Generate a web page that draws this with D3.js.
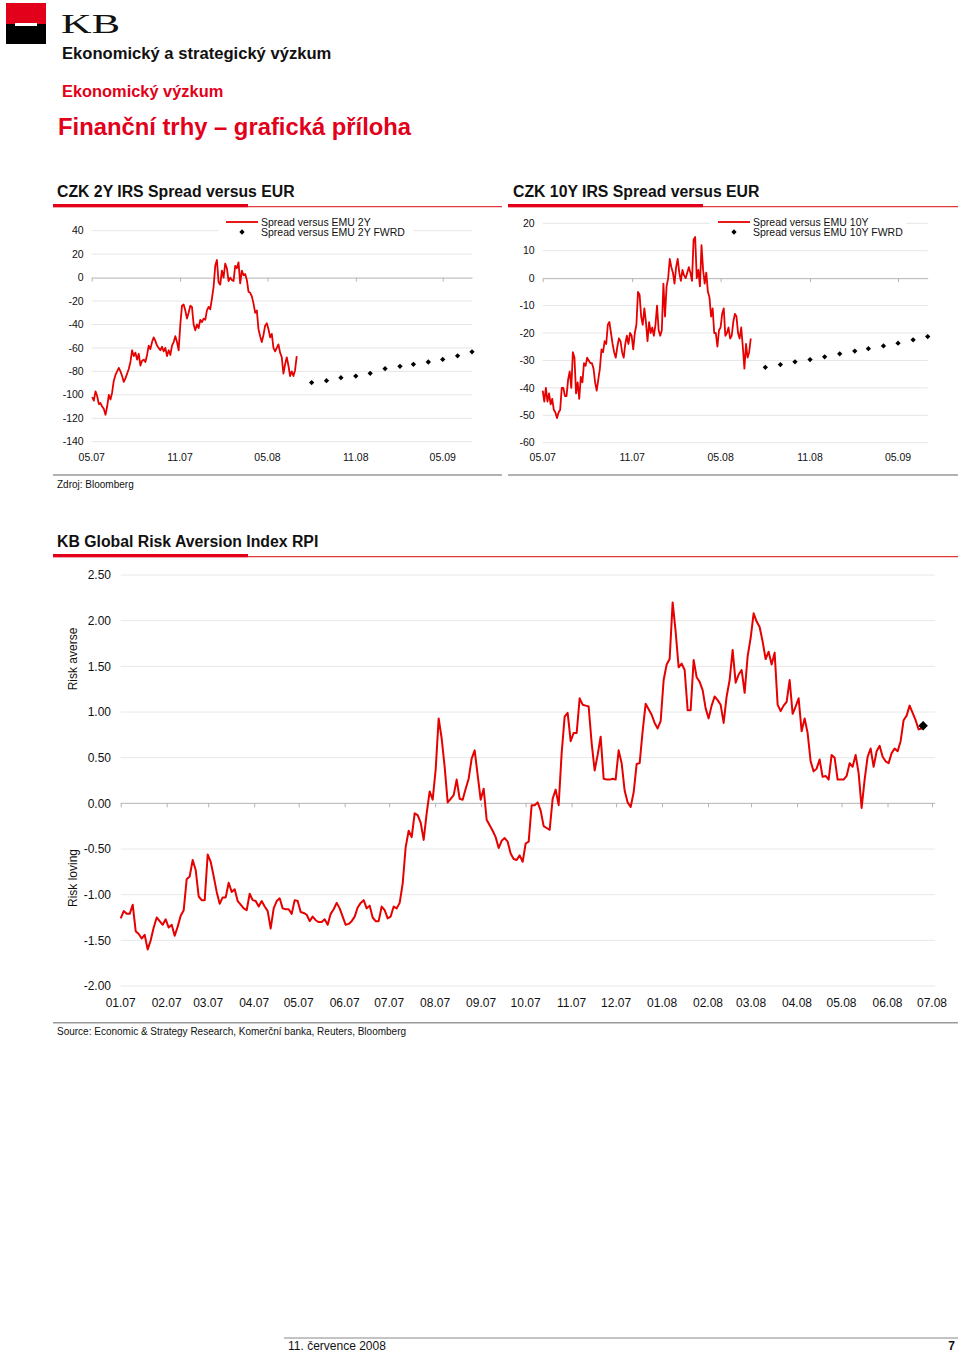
<!DOCTYPE html>
<html><head><meta charset="utf-8">
<script src="https://cdn.jsdelivr.net/npm/d3@7"></script>
<style>
body{margin:0;background:#fff;}
svg{display:block;font-family:"Liberation Sans",Arial,Helvetica,sans-serif;}
</style></head><body>
<svg id="c" width="960" height="1354"></svg>
<script>
// ---------------- DATA ----------------
const irsTickLabels = ["05.07","11.07","05.08","11.08","05.09"];
const irs2yTickLabels = ["40","20","0","-20","-40","-60","-80","-100","-120","-140"];
const irs10yTickLabels = ["20","10","0","-10","-20","-30","-40","-50","-60"];

// CZK 2Y IRS spread vs EMU 2Y (evenly sampled, 2007-05-02 .. 2008-07-01)
const spread2yStart = "2007-05-02", spread2yEnd = "2008-07-01";
const spread2y = [
 -102,-105,-97,-101,-108,-107,-110,-112,-117,-110,
 -100,-104,-98,-88,-83,-80,-77,-80,-84,-89,
 -86,-82,-78,-72,-62,-67,-64,-70,-65,-75,
 -71,-70,-72,-66,-58,-61,-55,-51,-54,-58,
 -60,-62,-59,-63,-60,-67,-62,-66,-58,-55,
 -50,-55,-62,-40,-24,-23,-28,-35,-30,-24,
 -25,-40,-45,-40,-43,-36,-38,-35,-36,-28,
 -25,-27,-18,-8,10,15,-4,-6,6,0,
 12,8,-3,0,-2,-3,10,8,13,-5,
 6,2,3,-2,-12,-13,-16,-22,-30,-28,
 -44,-50,-55,-49,-41,-39,-44,-51,-48,-60,
 -63,-60,-57,-64,-68,-82,-74,-68,-75,-84,
 -80,-84,-79,-67];
const fwdMonths = ["2008-08","2008-09","2008-10","2008-11","2008-12","2009-01","2009-02","2009-03","2009-04","2009-05","2009-06","2009-07"];
const fwd2y = [-89.6,-87.9,-85.4,-84.0,-81.7,-77.7,-75.7,-74.0,-72.0,-69.8,-66.7,-63.3];

// CZK 10Y IRS spread vs EMU 10Y (evenly sampled, 2007-05-01 .. 2008-07-02)
const spread10yStart = "2007-05-01", spread10yEnd = "2008-07-02";
const spread10y = [
 -41,-45,-40,-45,-42,-46,-44,-48,-49,-51,
 -49,-48,-40,-40,-43,-43,-37,-34,-40,-27,
 -29,-42,-38,-44,-36,-38,-31,-32,-29,-30,
 -31,-31,-33,-38,-41,-37,-33,-26,-27,-23,
 -24,-17,-16,-20,-24,-27,-29,-25,-22,-23,
 -27,-29,-24,-21,-24,-20,-21,-26,-20,-17,
 -5,-6,-14,-17,-11,-16,-23,-16,-20,-18,
 -21,-17,-10,-19,-21,-19,-2,-14,-3,0,
 7,4,2,-2,4,7,2,-1,3,1,
 0,2,4,2,-1,14,15,0,3,-3,
 12,3,-2,2,-5,-7,-14,-11,-20,-20,
 -25,-19,-18,-13,-11,-21,-20,-18,-22,-21,
 -16,-13,-14,-20,-22,-18,-25,-33,-24,-29,
 -27,-22];
const fwd10y = [-32.5,-31.5,-30.5,-29.7,-28.7,-27.6,-26.6,-25.7,-24.7,-23.7,-22.5,-21.3];

// KB Global Risk Aversion Index RPI (evenly sampled, 2007-01-01 .. 2008-06-24)
const rpiMonths = ["01.07","02.07","03.07","04.07","05.07","06.07","07.07","08.07","09.07","10.07","11.07","12.07","01.08","02.08","03.08","04.08","05.08","06.08","07.08"];
const rpiTickLabels = ["2.50","2.00","1.50","1.00","0.50","0.00","-0.50","-1.00","-1.50","-2.00"];
const rpiStart = "2007-01-01", rpiEnd = "2008-06-24";
const rpi = [
 -1.26,-1.18,-1.21,-1.21,-1.11,-1.40,-1.43,-1.48,-1.44,-1.60,
 -1.50,-1.36,-1.25,-1.29,-1.33,-1.27,-1.36,-1.33,-1.45,-1.35,
 -1.23,-1.17,-0.83,-0.80,-0.62,-0.73,-1.02,-1.06,-1.06,-0.56,
 -0.64,-0.80,-0.97,-1.10,-1.03,-1.03,-0.87,-0.97,-0.94,-1.07,
 -1.11,-1.15,-1.17,-0.99,-1.06,-1.07,-1.13,-1.07,-1.13,-1.18,
 -1.37,-1.15,-1.07,-1.04,-1.15,-1.16,-1.16,-1.21,-1.06,-1.07,
 -1.19,-1.20,-1.22,-1.29,-1.24,-1.28,-1.30,-1.30,-1.27,-1.33,
 -1.21,-1.16,-1.09,-1.15,-1.24,-1.33,-1.32,-1.29,-1.24,-1.14,
 -1.09,-1.06,-1.15,-1.12,-1.25,-1.29,-1.29,-1.13,-1.17,-1.26,
 -1.24,-1.13,-1.15,-1.09,-0.88,-0.48,-0.30,-0.37,-0.11,-0.13,
 -0.21,-0.40,-0.11,0.13,0.04,0.37,0.93,0.71,0.40,0.01,
 0.05,0.09,0.26,0.05,0.04,0.16,0.27,0.49,0.58,0.31,
 0.04,0.16,-0.18,-0.24,-0.30,-0.37,-0.49,-0.41,-0.38,-0.42,
 -0.55,-0.61,-0.62,-0.57,-0.64,-0.44,-0.42,-0.02,-0.02,0.01,
 -0.08,-0.25,-0.27,-0.29,0.05,0.15,-0.02,0.55,0.95,0.99,
 0.68,0.77,0.77,1.15,1.08,1.07,1.06,0.66,0.36,0.53,
 0.73,0.27,0.26,0.26,0.27,0.26,0.58,0.44,0.14,0.01,
 -0.04,0.12,0.43,0.44,0.79,1.09,1.03,0.97,0.88,0.82,
 0.90,1.35,1.52,1.58,2.20,1.88,1.49,1.53,1.46,1.02,
 1.02,1.57,1.38,1.33,1.24,1.04,0.93,1.07,1.17,1.13,
 1.08,0.88,1.17,1.35,1.68,1.32,1.41,1.46,1.21,1.61,
 1.81,2.08,1.99,1.93,1.77,1.58,1.66,1.52,1.65,1.08,
 1.01,1.07,1.11,1.35,0.98,1.06,1.15,0.79,0.93,0.77,
 0.46,0.35,0.38,0.48,0.29,0.30,0.26,0.53,0.50,0.26,
 0.26,0.26,0.30,0.44,0.40,0.53,0.33,-0.05,0.26,0.51,
 0.60,0.40,0.57,0.63,0.51,0.46,0.44,0.55,0.60,0.57,
 0.68,0.91,0.96,1.07,0.99,0.91,0.81,0.82];
const rpiLastDate = "2008-06-25", rpiLast = 0.85;

// ---------------- DRAWING ----------------
const RED = "#e60000", RED_TXT = "#e2001a";
const svg = d3.select("#c");
const parseD = d3.utcParse("%Y-%m-%d");
const parseYM = d3.utcParse("%Y-%m");
const parseMY = d3.utcParse("%m.%y");
function evenDates(n, s, e){ const a = parseD(s).getTime(), b = parseD(e).getTime(); return d3.range(n).map(i => new Date(a + (b - a) * i / (n - 1))); }
const diamond = (size) => d3.symbol(d3.symbolSquare, size)();

// header / logo
svg.append("rect").attr("x",6).attr("y",3).attr("width",40).attr("height",21).attr("fill","#e2001a");
svg.append("rect").attr("x",6).attr("y",24).attr("width",40).attr("height",20).attr("fill","#000");
svg.append("rect").attr("x",15).attr("y",23).attr("width",22).attr("height",3).attr("fill","#fff");
svg.append("text").attr("x",61).attr("y",33).attr("font-family","'Liberation Serif','Times New Roman',serif")
  .attr("font-size",28).attr("textLength",59).attr("lengthAdjust","spacingAndGlyphs").attr("fill","#111").text("KB");
svg.append("text").attr("x",62).attr("y",59).attr("font-size",16.6).attr("font-weight","bold").attr("fill","#111").text("Ekonomický a strategický výzkum");
svg.append("text").attr("x",62).attr("y",97).attr("font-size",16.4).attr("font-weight","bold").attr("fill",RED_TXT).text("Ekonomický výzkum");
svg.append("text").attr("x",58).attr("y",135).attr("font-size",23.8).attr("font-weight","bold").attr("fill",RED_TXT).text("Finanční trhy – grafická příloha");

function sectionTitle(x, y, text, lineX0, lineX1){
  svg.append("text").attr("x",x).attr("y",y).attr("font-size",15.8).attr("font-weight","bold").attr("fill","#111").text(text);
  svg.append("line").attr("x1",lineX0).attr("x2",lineX1).attr("y1",y+9.7).attr("y2",y+9.7).attr("stroke","#e23a3a").attr("stroke-width",1.3);
  svg.append("rect").attr("x",lineX0).attr("y",y+7).attr("width",195).attr("height",3.2).attr("fill","#e2001a");
}
sectionTitle(57,197,"CZK 2Y IRS Spread versus EUR",53,502);
sectionTitle(513,197,"CZK 10Y IRS Spread versus EUR",508,958);
sectionTitle(57,547,"KB Global Risk Aversion Index RPI",53,958);

function irsChart(cfg){
  const g = svg.append("g");
  const x = d3.scaleUtc().domain([parseD("2007-05-01"), parseD("2009-07-01")]).range([cfg.left, cfg.right]);
  const vals = cfg.ticks.map(Number);
  const y = d3.scaleLinear().domain([d3.min(vals), d3.max(vals)]).range([cfg.bottom, cfg.top]);
  g.selectAll("line.grid").data(vals.filter(v => v !== 0)).join("line").attr("class","grid")
    .attr("x1",cfg.left).attr("x2",cfg.right).attr("y1",d=>y(d)).attr("y2",d=>y(d))
    .attr("stroke","#e6e6e6").attr("stroke-width",1);
  g.selectAll("text.yl").data(cfg.ticks).join("text").attr("class","yl")
    .attr("x",cfg.left-8).attr("y",d=>y(+d)).attr("dy","0.35em").attr("text-anchor","end")
    .attr("font-size",10.5).attr("fill","#111").text(d=>d);
  const ax = g.append("g").attr("transform",`translate(0,${y(0)})`)
    .call(d3.axisBottom(x).tickValues(irsTickLabels.map(parseMY)).tickSize(4).tickSizeOuter(0).tickFormat(""));
  ax.select(".domain").attr("stroke","#b4b4b4");
  ax.selectAll(".tick line").attr("stroke","#b4b4b4");
  g.selectAll("text.xl").data(irsTickLabels).join("text").attr("class","xl")
    .attr("x",d=>x(parseMY(d))).attr("y",cfg.labelY).attr("text-anchor","middle")
    .attr("font-size",10.5).attr("fill","#111").text(d=>d);
  // legend
  const L = cfg.legend;
  g.append("rect").attr("x",L.x-8).attr("y",213).attr("width",L.w).attr("height",27).attr("fill","#fff");
  g.append("line").attr("x1",L.x).attr("x2",L.x+32).attr("y1",222).attr("y2",222).attr("stroke",RED).attr("stroke-width",1.8);
  g.append("path").attr("d",diamond(14)).attr("transform",`translate(${L.x+16},232) rotate(45)`).attr("fill","#000");
  g.append("text").attr("x",L.x+35).attr("y",222).attr("dy","0.35em").attr("font-size",10.5).attr("fill","#111").text(L.t1);
  g.append("text").attr("x",L.x+35).attr("y",232).attr("dy","0.35em").attr("font-size",10.5).attr("fill","#111").text(L.t2);
  // series
  const dates = evenDates(cfg.values.length, cfg.start, cfg.end);
  g.append("path").datum(cfg.values.map((v,i)=>[dates[i],v]))
    .attr("d", d3.line().x(d=>x(d[0])).y(d=>y(d[1])))
    .attr("fill","none").attr("stroke",RED).attr("stroke-width",1.8).attr("stroke-linejoin","round");
  g.selectAll("path.fw").data(cfg.fwd).join("path").attr("class","fw")
    .attr("d",diamond(14))
    .attr("transform",(d,i)=>`translate(${x(parseYM(fwdMonths[i]))},${y(d)}) rotate(45)`)
    .attr("fill","#000");
}
irsChart({left:91.7,right:472,top:230.7,bottom:441.7,labelY:461,ticks:irs2yTickLabels,values:spread2y,
  start:spread2yStart,end:spread2yEnd,fwd:fwd2y,
  legend:{x:226,w:196,t1:"Spread versus EMU 2Y",t2:"Spread versus EMU 2Y FWRD"}});
irsChart({left:542.7,right:927.7,top:223.3,bottom:442.7,labelY:461,ticks:irs10yTickLabels,values:spread10y,
  start:spread10yStart,end:spread10yEnd,fwd:fwd10y,
  legend:{x:718,w:196,t1:"Spread versus EMU 10Y",t2:"Spread versus EMU 10Y FWRD"}});

// separators
svg.append("line").attr("x1",53).attr("x2",502).attr("y1",475).attr("y2",475).attr("stroke","#9a9a9a").attr("stroke-width",1.4);
svg.append("line").attr("x1",508).attr("x2",958).attr("y1",475).attr("y2",475).attr("stroke","#9a9a9a").attr("stroke-width",1.4);
svg.append("text").attr("x",57).attr("y",488).attr("font-size",10).attr("fill","#111").text("Zdroj: Bloomberg");

// RPI chart
(function(){
  const g = svg.append("g");
  const x = d3.scaleUtc().domain([parseD("2007-01-01"), parseD("2008-07-01")]).range([120.7, 932]);
  const right = 935;
  const vals = rpiTickLabels.map(Number);
  const y = d3.scaleLinear().domain([-2, 2.5]).range([986, 575]);
  g.selectAll("line.grid").data(vals.filter(v=>v!==0)).join("line").attr("class","grid")
    .attr("x1",120.7).attr("x2",right).attr("y1",d=>y(d)).attr("y2",d=>y(d))
    .attr("stroke","#e8e8e8").attr("stroke-width",1);
  g.selectAll("text.yl").data(rpiTickLabels).join("text").attr("class","yl")
    .attr("x",111).attr("y",d=>y(+d)).attr("dy","0.35em").attr("text-anchor","end")
    .attr("font-size",12).attr("fill","#111").text(d=>d);
  g.append("line").attr("x1",120.7).attr("x2",right).attr("y1",y(0)).attr("y2",y(0)).attr("stroke","#b4b4b4");
  const ax = g.append("g").attr("transform",`translate(0,${y(0)})`)
    .call(d3.axisBottom(x).tickValues(rpiMonths.map(parseMY)).tickSize(4).tickSizeOuter(0).tickFormat(""));
  ax.select(".domain").remove();
  ax.selectAll(".tick line").attr("stroke","#b4b4b4");
  g.selectAll("text.xl").data(rpiMonths).join("text").attr("class","xl")
    .attr("x",d=>x(parseMY(d))).attr("y",1007).attr("text-anchor","middle")
    .attr("font-size",12).attr("fill","#111").text(d=>d);
  g.append("text").attr("transform","translate(77,659) rotate(-90)").attr("text-anchor","middle").attr("font-size",12).attr("fill","#111").text("Risk averse");
  g.append("text").attr("transform","translate(77,878) rotate(-90)").attr("text-anchor","middle").attr("font-size",12).attr("fill","#111").text("Risk loving");
  const dates = evenDates(rpi.length, rpiStart, rpiEnd);
  g.append("path").datum(rpi.map((v,i)=>[dates[i],v]))
    .attr("d", d3.line().x(d=>x(d[0])).y(d=>y(d[1])))
    .attr("fill","none").attr("stroke",RED).attr("stroke-width",2).attr("stroke-linejoin","round");
  g.append("path").attr("d",diamond(46)).attr("transform",`translate(${x(parseD(rpiLastDate))},${y(rpiLast)}) rotate(45)`).attr("fill","#000");
})();
svg.append("line").attr("x1",53).attr("x2",958).attr("y1",1022.7).attr("y2",1022.7).attr("stroke","#9a9a9a").attr("stroke-width",1.4);
svg.append("text").attr("x",57).attr("y",1035).attr("font-size",10).attr("fill","#111").text("Source: Economic & Strategy Research, Komerční banka, Reuters, Bloomberg");

// footer
svg.append("line").attr("x1",284).attr("x2",958).attr("y1",1338).attr("y2",1338).attr("stroke","#888").attr("stroke-width",1);
svg.append("text").attr("x",288).attr("y",1350).attr("font-size",12).attr("fill","#111").text("11. července 2008");
svg.append("text").attr("x",955).attr("y",1350).attr("text-anchor","end").attr("font-size",12).attr("font-weight","bold").attr("fill","#111").text("7");
</script>
</body></html>
